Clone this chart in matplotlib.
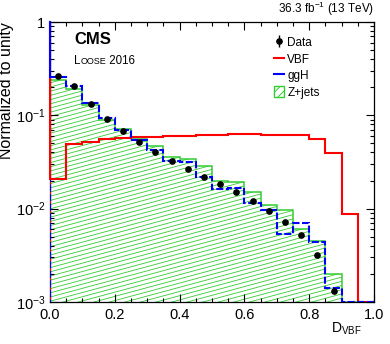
import matplotlib
matplotlib.use("Agg")
import matplotlib.pyplot as plt
import numpy as np
from matplotlib.collections import LineCollection
from matplotlib.legend_handler import HandlerTuple
from matplotlib.lines import Line2D
from matplotlib.offsetbox import AnchoredOffsetbox, HPacker, TextArea
from matplotlib.patches import Patch, Polygon
from matplotlib.ticker import FuncFormatter, LogLocator, MultipleLocator

# D_VBF distribution, 20 bins of width 0.05, each sample normalized to unity
bin_edges = np.linspace(0.0, 1.0, 21)
vbf = [0.0210, 0.0487, 0.0518, 0.0552, 0.0567, 0.0585, 0.0585, 0.0608, 0.0598, 0.0615,
       0.0617, 0.0625, 0.0635, 0.0622, 0.0617, 0.0620, 0.0552, 0.0393, 0.0088, 0.0]
ggh = [0.255, 0.207, 0.134, 0.0935, 0.069, 0.054, 0.042, 0.0323, 0.0315, 0.0221,
       0.0163, 0.0167, 0.0116, 0.0096, 0.00535, 0.0070, 0.0044, 0.0014, 0.0, 0.0]
zjets = [0.238, 0.190, 0.130, 0.090, 0.0708, 0.0555, 0.0464, 0.0356, 0.0342, 0.0290,
         0.0197, 0.0192, 0.0150, 0.0110, 0.0097, 0.0061, 0.00445, 0.00201, 0.0, 0.0]
data = [0.263, 0.207, 0.131, 0.092, 0.068, 0.052, 0.0407, 0.0328, 0.0269, 0.0221,
        0.0183, 0.0151, 0.0120, 0.0094, 0.0072, 0.0052, 0.0032, 0.0013, np.nan, np.nan]

YMIN, YMAX = 1e-3, 1.0
RED = "#ff0000"
BLUE = "#0000ff"
GREEN = "#33cc33"

plt.rcParams["font.family"] = "Liberation Sans"
plt.rcParams["mathtext.fontset"] = "custom"
plt.rcParams["mathtext.rm"] = "Liberation Sans"
plt.rcParams["mathtext.it"] = "Liberation Sans:italic"
plt.rcParams["mathtext.bf"] = "Liberation Sans:bold"
plt.rcParams["hatch.color"] = GREEN
plt.rcParams["hatch.linewidth"] = 0.7

fig = plt.figure(figsize=(3.9, 3.44), dpi=100)
ax = fig.add_axes([50 / 390, 42 / 344, 324 / 390, 280 / 344])
ax.set_yscale("log")
ax.set_xlim(0.0, 1.0)
ax.set_ylim(YMIN, YMAX)

# values at zero are drawn on the lower frame, like ROOT does
vbf_plot = np.maximum(vbf, YMIN)
ggh_plot = np.maximum(ggh, YMIN)
zjets_plot = np.maximum(zjets, YMIN)
centers = 0.5 * (bin_edges[:-1] + bin_edges[1:])

# Z+jets: shallow hatching clipped to the histogram shape
verts = [(bin_edges[0], YMIN)]
for x0, x1, v in zip(bin_edges[:-1], bin_edges[1:], zjets_plot):
    verts += [(x0, v), (x1, v)]
verts.append((bin_edges[-1], YMIN))
shape = Polygon(verts, closed=True, facecolor="none", edgecolor="none")
ax.add_patch(shape)

w_px, h_px, slope, step = 324.0, 280.0, 0.27, 4.2
segs = []
for c in np.arange(-slope * w_px, h_px + step, step):
    segs.append([(0.0, c / h_px), (1.0, (slope * w_px + c) / h_px)])
hatch = LineCollection(segs, colors=GREEN, linewidths=0.6, transform=ax.transAxes, zorder=1)
hatch.set_clip_path(shape)
ax.add_collection(hatch)

ax.stairs(zjets_plot, bin_edges, color=GREEN, lw=1.1, zorder=2)
ax.stairs(vbf_plot, bin_edges, color=RED, lw=1.5, zorder=3)
ax.stairs(ggh_plot, bin_edges, color=BLUE, lw=1.5, linestyle=(0, (3.4, 1.2)), zorder=4)

# left edges of the histograms run up to the top of the frame
ax.plot([bin_edges[0]] * 2, [YMAX, vbf_plot[0]], color=RED, lw=1.5, zorder=5, clip_on=False)
ax.plot([bin_edges[0]] * 2, [YMAX, ggh_plot[0]], color=BLUE, lw=1.5, zorder=6, clip_on=False)

ax.plot(centers, data, "o", color="black", ms=3.8, zorder=7)

# ticks, ROOT style
ax.xaxis.set_major_locator(MultipleLocator(0.2))
ax.xaxis.set_minor_locator(MultipleLocator(0.05))
ax.yaxis.set_major_locator(LogLocator(base=10))
ax.yaxis.set_minor_locator(LogLocator(base=10, subs=np.arange(2, 10)))
ax.xaxis.set_major_formatter(FuncFormatter(lambda v, p: f"{v:.1f}"))
ax.yaxis.set_major_formatter(
    FuncFormatter(lambda v, p: "1" if abs(v - 1) < 1e-9 else r"$10^{%d}$" % round(np.log10(v))))
ax.tick_params(which="both", direction="in", top=True, right=True, labelsize=10.5, width=0.8)
ax.tick_params(which="major", length=5.5, pad=3.5)
ax.tick_params(axis="x", which="major", pad=4.5)
ax.tick_params(which="minor", length=3)
for sp in ax.spines.values():
    sp.set_linewidth(0.9)

ax.set_ylabel("Normalized to unity", loc="top", fontsize=11.5, labelpad=1)
ax.set_xlabel(r"D$_{\mathrm{VBF}}$", loc="right", fontsize=10)
ax.xaxis.set_label_coords(0.963, -0.065)

ax.text(1.0, 1.016, r"36.3 fb$^{-1}$ (13 TeV)", transform=ax.transAxes,
        ha="right", va="bottom", fontsize=8.5)
ax.text(0.074, 0.921, "CMS", transform=ax.transAxes, fontsize=12, fontweight="bold",
        va="baseline")

label = HPacker(children=[TextArea("L", textprops=dict(fontsize=8.3)),
                          TextArea("OOSE", textprops=dict(fontsize=6.5)),
                          TextArea(" 2016", textprops=dict(fontsize=8.3))],
                align="baseline", pad=0, sep=0)
box = AnchoredOffsetbox(loc="lower left", child=label, pad=0, borderpad=0, frameon=False,
                        bbox_to_anchor=(0.074, 0.838), bbox_transform=ax.transAxes)
ax.add_artist(box)

data_handle = (Line2D([], [], marker="|", ms=8, mew=1.0, color="black", ls="none"),
               Line2D([], [], marker="o", ms=3.8, color="black", ls="none"))
handles = [data_handle,
           Line2D([], [], color=RED, lw=1.5),
           Line2D([], [], color=BLUE, lw=1.5),
           Patch(facecolor="white", edgecolor=GREEN, hatch="////", lw=1.0)]
labels = ["Data", "VBF", "ggH", "Z+jets"]
ax.legend(handles, labels, loc="upper left", bbox_to_anchor=(0.69, 0.948), frameon=False,
          fontsize=8.5, handlelength=0.85, handletextpad=0.3, handleheight=1.1,
          labelspacing=0.32, borderpad=0, borderaxespad=0,
          handler_map={tuple: HandlerTuple(ndivide=1)})

fig.savefig("out.png", dpi=100)
